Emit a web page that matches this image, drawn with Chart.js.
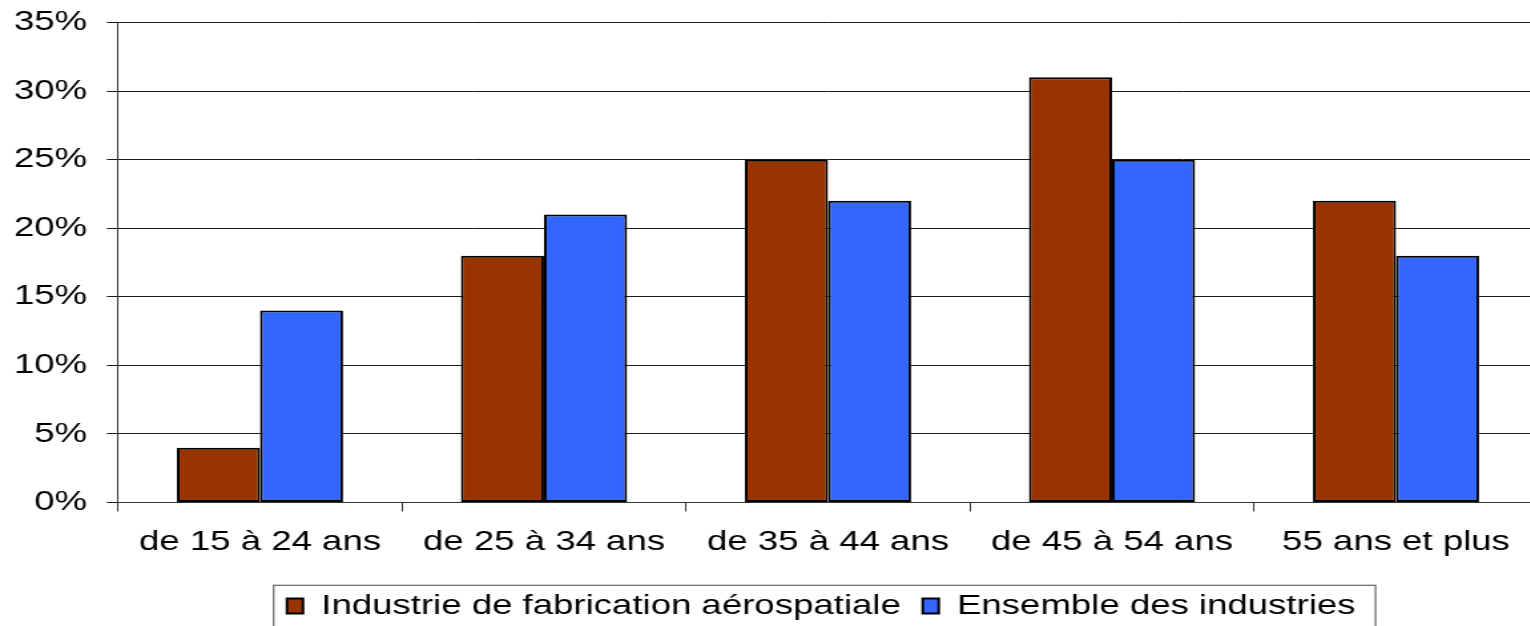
<!DOCTYPE html>
<html>
<head>
<meta charset="utf-8">
<script src="https://cdn.jsdelivr.net/npm/chart.js@4/dist/chart.umd.min.js"></script>
<style>
  html, body { margin: 0; padding: 0; background: #fff; overflow: hidden; }
  #c { position: absolute; left: 0; top: 0; }
</style>
</head>
<body>
<canvas id="c" width="1160" height="640" style="width:1543px;height:640px"></canvas>
<script>
// donnees
var categories = ['de 15 à 24 ans', 'de 25 à 34 ans', 'de 35 à 44 ans', 'de 45 à 54 ans', '55 ans et plus']
var aeroValues = [4, 18, 25, 31, 22]
var allValues = [14, 21, 22, 25, 18]
var seriesNames = ['Industrie de fabrication aérospatiale', 'Ensemble des industries']
var yTicks = [0, 5, 10, 15, 20, 25, 30, 35]

// the picture is stretched sideways, canvas is drawn narrow then widened by css
var sx = 1543 / 1160
var font = { family: "'Liberation Sans', Arial, sans-serif", size: 27.5 }

// legend sits in a framed box, a bit right of center
var legendBox = {
  id: 'legendBox',
  afterLayout: function(chart) {
    var lg = chart.legend
    var pad = lg.options.labels.padding
    var x0 = (lg.left + pad + lg.right - lg.lineWidths[0]) / 2
    var s = 287 / sx - x0
    lg.left += s
    lg.right += s
  },
  afterDraw: function(chart) {
    var lg = chart.legend
    var pad = lg.options.labels.padding
    var x0 = (lg.left + pad + lg.right - lg.lineWidths[0]) / 2
    var ctx = chart.ctx
    ctx.save()
    ctx.strokeStyle = '#444'
    ctx.lineWidth = 1
    ctx.strokeRect(x0 - 10, lg.top + 9.5, lg.lineWidths[0] - pad + 25, 80)
    ctx.restore()
  }
}

var ctx = document.getElementById('c').getContext('2d')
var chart = new Chart(ctx, {
  type: 'bar',
  data: {
    labels: categories,
    datasets: [{
      label: seriesNames[0],
      data: aeroValues,
      backgroundColor: '#993300',
      borderColor: '#000',
      borderWidth: 2,
      borderSkipped: false
    }, {
      label: seriesNames[1],
      data: allValues,
      backgroundColor: '#3366ff',
      borderColor: '#000',
      borderWidth: 2,
      borderSkipped: false
    }]
  },
  options: {
    responsive: false,
    devicePixelRatio: 1,
    animation: false,
    datasets: { bar: { categoryPercentage: 0.585, barPercentage: 1 } },
    layout: { padding: { top: 22.5, bottom: 10.25, left: 0, right: 1160 - 1538 / sx } },
    plugins: {
      tooltip: { enabled: false },
      legend: {
        position: 'bottom',
        labels: {
          color: '#000',
          font: font,
          boxWidth: 12,
          boxHeight: 15,
          padding: 16.5
        }
      }
    },
    scales: {
      x: {
        afterFit: function(scale) { scale.height = 73.25 },
        grid: { offset: true, drawOnChartArea: false, drawTicks: true, tickLength: 9, color: '#333' },
        border: { color: '#333', width: 1 },
        ticks: { color: '#000', font: font, padding: 14, maxRotation: 0, autoSkip: false }
      },
      y: {
        min: 0,
        max: 35,
        afterFit: function(scale) {
          scale.width = 118 / sx
          scale.paddingTop = 0
          scale.paddingBottom = 0
        },
        afterBuildTicks: function(scale) {
          scale.ticks = yTicks.map(function(v) { return { value: v } })
        },
        grid: { color: '#1a1a1a', lineWidth: 1, tickLength: 11 / sx },
        border: { color: '#333', width: 1 },
        ticks: {
          color: '#000',
          font: font,
          padding: 15,
          callback: function(v) { return v + '%' }
        }
      }
    }
  },
  plugins: [legendBox]
})
</script>
</body>
</html>
